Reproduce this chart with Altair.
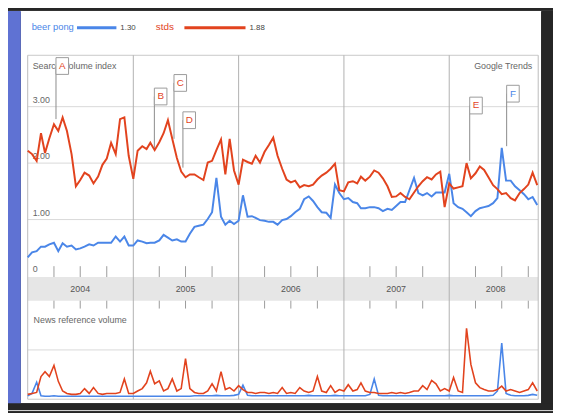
import altair as alt
import pandas as pd

# ---------------- data ----------------
# half-monthly samples, 2004-01-01 ... 2008-11-01
dates = []
for yr in range(2004, 2009):
    for mo in range(1, 13):
        for dd in (1, 16):
            dates.append(f"{yr}-{mo:02d}-{dd:02d}")
dates = dates[:117]

stds = [
    2.22, 2.16, 2.04, 2.53, 2.18, 2.44, 2.69, 2.57, 2.81, 2.57, 2.16, 1.59,
    1.70, 1.83, 1.78, 1.64, 1.76, 1.97, 2.08, 2.36, 2.16, 2.78, 2.81, 2.13,
    1.72, 2.22, 2.30, 2.25, 2.36, 2.23, 2.37, 2.53, 2.76, 2.43, 2.09, 1.85,
    1.75, 1.80, 1.80, 1.75, 1.70, 2.01, 2.04, 2.23, 2.42, 1.80, 2.43, 1.87,
    1.62, 2.06, 2.02, 1.99, 2.13, 2.01, 2.20, 2.32, 2.45, 2.13, 1.90, 1.71,
    1.66, 1.69, 1.57, 1.61, 1.59, 1.62, 1.71, 1.78, 1.83, 1.90, 1.99, 1.52,
    1.50, 1.66, 1.68, 1.64, 1.76, 1.69, 1.76, 1.87, 1.83, 1.73, 1.59, 1.40,
    1.41, 1.47, 1.40, 1.36, 1.48, 1.59, 1.68, 1.75, 1.71, 1.80, 1.85, 1.22,
    1.64, 1.55, 1.57, 1.59, 2.00, 1.73, 1.82, 1.94, 1.88, 1.75, 1.61, 1.54,
    1.45, 1.47, 1.38, 1.34, 1.47, 1.54, 1.62, 1.83, 1.61,
]
beer_pong = [
    0.33, 0.42, 0.44, 0.52, 0.52, 0.56, 0.59, 0.44, 0.58, 0.52, 0.54, 0.47,
    0.49, 0.52, 0.56, 0.54, 0.59, 0.59, 0.59, 0.59, 0.70, 0.61, 0.70, 0.54,
    0.54, 0.63, 0.61, 0.58, 0.59, 0.59, 0.63, 0.73, 0.68, 0.63, 0.65, 0.61,
    0.61, 0.75, 0.87, 0.89, 0.91, 1.01, 1.13, 1.74, 1.05, 0.91, 0.98, 0.92,
    0.98, 1.43, 1.05, 1.06, 1.03, 0.99, 0.98, 0.96, 0.96, 0.91, 0.99, 1.01,
    1.06, 1.13, 1.19, 1.36, 1.41, 1.33, 1.22, 1.13, 1.12, 1.03, 1.62, 1.47,
    1.36, 1.38, 1.31, 1.29, 1.20, 1.20, 1.22, 1.22, 1.20, 1.15, 1.19, 1.17,
    1.24, 1.31, 1.31, 1.52, 1.74, 1.47, 1.43, 1.47, 1.41, 1.48, 1.48, 1.48,
    1.81, 1.29, 1.22, 1.19, 1.13, 1.06, 1.15, 1.20, 1.22, 1.24, 1.29, 1.38,
    2.27, 1.69, 1.69, 1.59, 1.52, 1.45, 1.36, 1.40, 1.26,
]
news_stds = [
    0.08, 0.10, 0.12, 0.45, 0.55, 0.45, 0.68, 0.35, 0.15, 0.10, 0.08, 0.08,
    0.10, 0.20, 0.10, 0.22, 0.10, 0.08, 0.10, 0.10, 0.10, 0.12, 0.40, 0.10,
    0.10, 0.15, 0.20, 0.32, 0.56, 0.30, 0.36, 0.15, 0.20, 0.40, 0.15, 0.20,
    0.82, 0.20, 0.12, 0.10, 0.10, 0.15, 0.30, 0.15, 0.55, 0.18, 0.22, 0.15,
    0.26, 0.18, 0.12, 0.12, 0.10, 0.12, 0.12, 0.10, 0.12, 0.10, 0.22, 0.10,
    0.12, 0.10, 0.22, 0.15, 0.12, 0.15, 0.45, 0.15, 0.12, 0.26, 0.12, 0.18,
    0.15, 0.28, 0.15, 0.18, 0.32, 0.15, 0.12, 0.12, 0.10, 0.10, 0.10, 0.12,
    0.10, 0.12, 0.10, 0.12, 0.15, 0.15, 0.26, 0.18, 0.37, 0.30, 0.15, 0.20,
    0.15, 0.43, 0.15, 0.12, 1.45, 0.70, 0.32, 0.22, 0.18, 0.15, 0.15, 0.18,
    0.25, 0.15, 0.18, 0.15, 0.12, 0.15, 0.18, 0.32, 0.15,
]
news_beer_pong = [
    0.05, 0.10, 0.33, 0.05, 0.04, 0.04, 0.05, 0.04, 0.04, 0.04, 0.04, 0.04,
    0.04, 0.04, 0.04, 0.04, 0.04, 0.04, 0.04, 0.04, 0.04, 0.04, 0.04, 0.04,
    0.04, 0.04, 0.04, 0.04, 0.04, 0.04, 0.04, 0.04, 0.04, 0.04, 0.04, 0.04,
    0.04, 0.04, 0.05, 0.05, 0.05, 0.05, 0.05, 0.06, 0.05, 0.05, 0.05, 0.06,
    0.08, 0.27, 0.06, 0.05, 0.05, 0.05, 0.05, 0.05, 0.05, 0.05, 0.05, 0.05,
    0.05, 0.05, 0.05, 0.05, 0.06, 0.05, 0.05, 0.05, 0.05, 0.05, 0.06, 0.05,
    0.05, 0.05, 0.05, 0.05, 0.05, 0.05, 0.08, 0.40, 0.06, 0.05, 0.05, 0.05,
    0.05, 0.05, 0.05, 0.05, 0.05, 0.05, 0.05, 0.05, 0.05, 0.05, 0.05, 0.05,
    0.06, 0.05, 0.05, 0.05, 0.05, 0.05, 0.05, 0.05, 0.05, 0.05, 0.06, 0.15,
    1.14, 0.10, 0.06, 0.05, 0.05, 0.05, 0.06, 0.08, 0.06,
]

series_names = ["beer pong", "stds"]
series_colors = ["#4a86e8", "#e2431e"]
series_avgs = ["1.30", "1.88"]

ann_letters = ["A", "B", "C", "D", "E", "F"]
ann_dates = ["2004-04-08", "2005-03-15", "2005-05-22", "2005-06-22", "2008-03-12", "2008-07-18"]
ann_anchor = [2.78, 2.27, 2.43, 1.92, 2.04, 2.30]
ann_flag = [3.72, 3.18, 3.42, 2.76, 3.02, 3.23]
ann_color = ["#e2431e", "#e2431e", "#e2431e", "#e2431e", "#e2431e", "#4a86e8"]

year_labels = ["2004", "2005", "2006", "2007", "2008"]
year_label_dates = ["2004-07-01", "2005-07-01", "2006-07-01", "2007-07-01", "2008-06-10"]
year_lines = ["2005-01-01", "2006-01-01", "2007-01-01", "2008-01-01"]
quarter_ticks = [f"{y}-{m:02d}-01" for y in range(2004, 2009) for m in (4, 7, 10)]

y_tick_values = [3, 2, 1, 0]
y_tick_labels = ["3.00", "2.00", "1.00", "0"]

# ---------------- tables ----------------
upper = pd.DataFrame({
    "date": dates * 2,
    "series": ["beer pong"] * len(dates) + ["stds"] * len(dates),
    "value": beer_pong + stds,
})
news = pd.DataFrame({
    "date": dates * 2,
    "series": ["beer pong"] * len(dates) + ["stds"] * len(dates),
    "value": news_beer_pong + news_stds,
})
ann = pd.DataFrame({"letter": ann_letters, "date": ann_dates, "anchor": ann_anchor,
                    "flag": ann_flag, "col": ann_color})
one = pd.DataFrame({"a": [0]})

X = alt.Scale(domain=[alt.DateTime(year=2004, month=1, date=1, utc=True),
                      alt.DateTime(year=2008, month=11, date=1, utc=True)],
              range=[20, 537])
YU = alt.Scale(domain=[0, 3.91], range=[269, 45], nice=False, zero=False)
YN = alt.Scale(domain=[0, 2], range=[393, 295], nice=False, zero=False)
COL = alt.Scale(domain=series_names, range=series_colors)

def xenc(field="date"):
    return alt.X(f"{field}:T", scale=X, axis=None)

def rect(x1, x2, y1, y2, color):
    return alt.Chart(one).mark_rect(color=color).encode(
        x=alt.value(x1), x2=alt.value(x2), y=alt.value(y1), y2=alt.value(y2))

def hline(x1, x2, y, color, w=1):
    return alt.Chart(one).mark_rule(color=color, strokeWidth=w).encode(
        x=alt.value(x1), x2=alt.value(x2), y=alt.value(y))

def vline(x, y1, y2, color, w=1):
    return alt.Chart(one).mark_rule(color=color, strokeWidth=w).encode(
        x=alt.value(x), y=alt.value(y1), y2=alt.value(y2))

def label(text, x, y, color="#666", size=9, align="left", baseline="middle"):
    return alt.Chart(pd.DataFrame({"t": [text]})).mark_text(
        color=color, fontSize=size, align=align, baseline=baseline).encode(
        x=alt.value(x), y=alt.value(y), text="t:N")

layers = []
# backgrounds
layers.append(rect(13, 541, 0, 398, "white"))
layers.append(rect(0, 13, 0, 405, "#5f72d3"))
layers.append(rect(20, 538, 270, 294, "#e6e6e6"))

# horizontal gridlines
layers.append(alt.Chart(pd.DataFrame({"v": [1, 2, 3]})).mark_rule(color="#d8d8d8").encode(
    y=alt.Y("v:Q", scale=YU, axis=None), x=alt.value(20), x2=alt.value(538)))
layers.append(alt.Chart(pd.DataFrame({"v": [1]})).mark_rule(color="#d8d8d8").encode(
    y=alt.Y("v:Q", scale=YN, axis=None), x=alt.value(20), x2=alt.value(538)))

# frame
layers.append(hline(20, 538, 45, "#c8c8c8"))
layers.append(hline(20, 538, 394, "#c8c8c8"))
layers.append(vline(20, 45, 394, "#bbbbbb"))
layers.append(vline(538, 45, 394, "#bbbbbb"))

# year lines and quarter ticks
layers.append(alt.Chart(pd.DataFrame({"date": year_lines})).mark_rule(color="#b0b0b0").encode(
    x=xenc(), y=alt.value(45), y2=alt.value(394)))
qt = pd.DataFrame({"date": quarter_ticks})
layers.append(alt.Chart(qt).mark_rule(color="#9a9a9a").encode(
    x=xenc(), y=alt.value(259), y2=alt.value(270)))
layers.append(alt.Chart(qt).mark_rule(color="#9a9a9a").encode(
    x=xenc(), y=alt.value(294), y2=alt.value(302)))

# year labels
layers.append(alt.Chart(pd.DataFrame({"date": year_label_dates, "t": year_labels})).mark_text(
    color="#555", fontSize=9, baseline="middle").encode(x=xenc(), y=alt.value(282), text="t:N"))

# y labels
layers.append(alt.Chart(pd.DataFrame({"v": y_tick_values, "t": y_tick_labels})).mark_text(
    color="#666", fontSize=9, align="left", baseline="bottom", dy=-2).encode(
    x=alt.value(25), y=alt.Y("v:Q", scale=YU, axis=None), text="t:N"))

# panel titles
layers.append(label("Search Volume index", 25, 56))
layers.append(label("Google Trends", 532, 56, align="right"))
layers.append(label("News reference volume", 26, 314))

# news lines
for name in series_names:
    layers.append(alt.Chart(news[news.series == name]).mark_line(strokeWidth=1.6).encode(
        x=xenc(), y=alt.Y("value:Q", scale=YN, axis=None),
        color=alt.Color("series:N", scale=COL, legend=None)))

# search volume lines
for name in series_names:
    layers.append(alt.Chart(upper[upper.series == name]).mark_line(strokeWidth=2).encode(
        x=xenc(), y=alt.Y("value:Q", scale=YU, axis=None),
        color=alt.Color("series:N", scale=COL, legend=None)))

# annotation flags
layers.append(alt.Chart(ann).mark_rule(color="#8a8a8a", strokeWidth=1).encode(
    x=xenc(), y=alt.Y("anchor:Q", scale=YU, axis=None), y2="flag:Q"))
layers.append(alt.Chart(ann).mark_point(
    shape="M0,-1L1.5,-1L1.5,1L0,1Z", size=289, filled=True, fill="white",
    stroke="#9a9a9a", strokeWidth=1, opacity=1).encode(
    x=xenc(), y=alt.Y("flag:Q", scale=YU, axis=None)))
layers.append(alt.Chart(ann).mark_text(fontSize=10, dx=6.5, baseline="middle").encode(
    x=xenc(), y=alt.Y("flag:Q", scale=YU, axis=None), text="letter:N",
    color=alt.Color("col:N", scale=None, legend=None)))

# legend
layers.append(label("beer pong", 24, 16, color=series_colors[0], size=9.5))
layers.append(hline(70, 110, 17, series_colors[0], 3))
layers.append(label(series_avgs[0], 114, 17, color="#444", size=8))
layers.append(label("stds", 150, 16, color=series_colors[1], size=10))
layers.append(hline(179, 241, 17, series_colors[1], 3))
layers.append(label(series_avgs[1], 245, 17, color="#444", size=8))

# dark photo border
layers.append(rect(541, 553, 0, 405, "#262626"))
layers.append(rect(0, 553, 398, 405, "#262626"))

chart = alt.layer(*layers).resolve_scale(y="independent", color="independent").properties(
    width=553, height=405,
    autosize=alt.AutoSizeParams(type="none"),
    padding=0,
    background="#262626",
).configure_view(stroke=None).configure(font="Arial")

chart.save("out.html", embed_options={"renderer": "svg", "actions": False})
